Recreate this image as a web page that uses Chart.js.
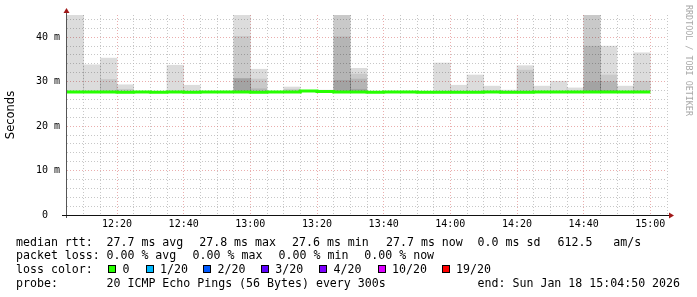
<!DOCTYPE html>
<html>
<head>
<meta charset="utf-8">
<script src="https://cdn.jsdelivr.net/npm/chart.js@4/dist/chart.umd.min.js"></script>
<style>
  html, body { margin: 0; padding: 0; background: #fff; }
  #wrap { position: relative; width: 697px; height: 297px; overflow: hidden; }
  #chart { position: absolute; left: 0; top: 0; }
  .t { position: absolute; font: 11.6px "DejaVu Sans Mono", monospace; line-height: 14px; white-space: pre; color: #000; }
  .box { position: absolute; width: 6px; height: 6px; border: 1px solid #000; }
</style>
</head>
<body>
<div id="wrap">
  <canvas id="chart" width="697" height="297"></canvas>
</div>
<script>

// time axis: one column per 5 minutes, starting 12:05
var startTime = '12:05'
var stepMinutes = 5
var spanMinutes = 180
var timeLabels = ['12:20', '12:40', '13:00', '13:20', '13:40', '14:00', '14:20', '14:40', '15:00']

var yMax = 45
var yTickValues = [0, 10, 20, 30, 40]
var yTickText = ['0  ', '10 m', '20 m', '30 m', '40 m']

// median rtt per column (ms)
var median = [27.7, 27.7, 27.7, 27.6, 27.7, 27.6, 27.7, 27.6, 27.7, 27.7,
              27.7, 27.6, 27.7, 27.7, 27.9, 27.8, 27.7, 27.7, 27.6, 27.7,
              27.7, 27.6, 27.6, 27.6, 27.6, 27.7, 27.6, 27.6, 27.7, 27.7,
              27.7, 27.7, 27.7, 27.7, 27.7]

// smoke layers (top of each band, ms), outermost first
var smoke1 = [45, 33.8, 35.3, 29.3, null, null, 33.7, 29.2, null, null,
              45, 32.8, null, 28.8, null, 28.1, 45, 33, null, null,
              null, null, 34.2, 29.2, 31.5, 29, 28.1, 33.6, 29, 30.1,
              28.6, 45, 38, 29, 36.5]
var smoke2 = [null, null, 30.5, 28.3, null, null, null, null, null, null,
              40.2, 30.6, null, 28.3, null, null, 45, 31.7, null, null,
              null, null, null, null, null, null, null, 32.6, null, null,
              null, 45, 31.5, null, 30.1]
var smoke3 = [null, null, null, null, null, null, null, null, null, null,
              30.7, 28.4, null, null, null, null, 40.1, 30.6, null, null,
              null, null, null, null, null, null, null, null, null, null,
              null, 38, 30, null, null]
var smoke4 = [null, null, null, null, null, null, null, null, null, null,
              30.7, null, null, null, null, null, 30.3, 28.3, null, null,
              null, null, null, null, null, null, null, null, null, null,
              null, 30, 28, null, null]

var rttStats = ['27.7 ms avg', '27.8 ms max', '27.6 ms min', '27.7 ms now', '0.0 ms sd', '612.5', 'am/s']
var lossStats = ['0.00 % avg', '0.00 % max', '0.00 % min', '0.00 % now']
var lossLabels = ['0', '1/20', '2/20', '3/20', '4/20', '10/20', '19/20']
var lossColors = ['#26ff00', '#00b8ff', '#0059ff', '#5e00ff', '#7e00ff', '#dd00ff', '#ff0000']
var probeText = '20 ICMP Echo Pings (56 Bytes) every 300s'
var endText = 'end: Sun Jan 18 15:04:50 2026'


function toMin(s) {
  var p = s.split(':')
  return +p[0] * 60 + +p[1]
}

var t0 = toMin(startTime)
var labelOffsets = timeLabels.map(s => toMin(s) - t0)

function smokeData(tops) {
  var out = []
  tops.forEach((top, i) => {
    if (top !== null)
      out.push({ x: i * stepMinutes + stepMinutes / 2, y: [median[i], top] })
  })
  return out
}

var medianLine = median.map((v, i) => ({ x: i * stepMinutes, y: v }))
medianLine.push({ x: median.length * stepMinutes, y: median[median.length - 1] })

function smokeSet(tops, color, order) {
  return {
    type: 'bar',
    data: smokeData(tops),
    backgroundColor: color,
    borderWidth: 0,
    grouped: false,
    barPercentage: 1,
    categoryPercentage: 1,
    order: order
  }
}

// axis lines, arrows and the side watermark
const decor = {
  id: 'decor',
  afterDraw(chart) {
    const { ctx, chartArea: a } = chart
    ctx.save()
    ctx.lineWidth = 1
    ctx.strokeStyle = '#555'
    ctx.beginPath()
    ctx.moveTo(a.left - 0.5, a.bottom + 3)
    ctx.lineTo(a.left - 0.5, a.top - 4)
    ctx.stroke()
    ctx.strokeStyle = '#111'
    ctx.beginPath()
    ctx.moveTo(a.left - 5, a.bottom + 0.5)
    ctx.lineTo(a.right + 3, a.bottom + 0.5)
    ctx.stroke()

    ctx.fillStyle = '#a01818'
    ctx.beginPath()
    ctx.moveTo(a.left - 0.5, a.top - 7)
    ctx.lineTo(a.left - 3.5, a.top - 2)
    ctx.lineTo(a.left + 2.5, a.top - 2)
    ctx.closePath()
    ctx.fill()
    ctx.beginPath()
    ctx.moveTo(a.right + 7, a.bottom + 0.5)
    ctx.lineTo(a.right + 2, a.bottom - 2.5)
    ctx.lineTo(a.right + 2, a.bottom + 3.5)
    ctx.closePath()
    ctx.fill()

    ctx.translate(688, 5)
    ctx.rotate(Math.PI / 2)
    ctx.fillStyle = '#a8a8a8'
    ctx.font = '8.4px "DejaVu Sans Mono"'
    ctx.textBaseline = 'middle'
    ctx.fillText('RRDTOOL / TOBI OETIKER', 0, 0)
    ctx.restore()
  }
}

Chart.defaults.font.family = '"DejaVu Sans Mono", monospace'

const ctx = document.getElementById('chart')

new Chart(ctx, {
  type: 'bar',
  data: {
    datasets: [
      {
        type: 'line',
        data: medianLine,
        borderColor: '#26ff00',
        borderWidth: 3,
        pointRadius: 0,
        stepped: 'before',
        order: 0
      },
      smokeSet(smoke1, 'rgba(0,0,0,0.137)', 4),
      smokeSet(smoke2, 'rgba(0,0,0,0.09)', 3),
      smokeSet(smoke3, 'rgba(0,0,0,0.1)', 2),
      smokeSet(smoke4, 'rgba(0,0,0,0.1)', 1)
    ]
  },
  options: {
    responsive: false,
    animation: false,
    layout: { padding: { top: 15, right: 30, left: 0, bottom: 0 } },
    plugins: { legend: { display: false }, tooltip: { enabled: false } },
    scales: {
      x: {
        type: 'linear',
        min: 0,
        max: spanMinutes,
        offset: false,
        afterFit: s => { s.height = 82 },
        border: { display: false, dash: [1, 2] },
        grid: {
          offset: false,
          drawTicks: false,
          color: c => {
            var v = c.tick ? c.tick.value : 0
            if (v === 0) return 'rgba(0,0,0,0)'
            return labelOffsets.indexOf(v) >= 0 ? 'rgba(220,120,120,0.6)' : 'rgba(180,180,180,0.75)'
          }
        },
        ticks: {
          stepSize: stepMinutes,
          maxTicksLimit: 100,
          autoSkip: false,
          maxRotation: 0,
          minRotation: 0,
          padding: 3,
          color: '#000',
          font: { size: 10 },
          callback: v => {
            var i = labelOffsets.indexOf(v)
            return i >= 0 ? timeLabels[i] : ''
          }
        }
      },
      y: {
        min: 0,
        max: yMax,
        afterFit: s => { s.width = 67 },
        border: { display: false, dash: [1, 2] },
        grid: {
          drawTicks: false,
          color: c => {
            var v = c.tick ? c.tick.value : 0
            if (v === 0) return 'rgba(0,0,0,0)'
            return yTickValues.indexOf(v) >= 0 ? 'rgba(220,120,120,0.6)' : 'rgba(180,180,180,0.75)'
          }
        },
        ticks: {
          stepSize: 2,
          maxTicksLimit: 100,
          autoSkip: false,
          includeBounds: false,
          padding: 7,
          color: '#000',
          font: { size: 10 },
          callback: v => {
            var i = yTickValues.indexOf(v)
            return i >= 0 ? yTickText[i] : ''
          }
        },
        title: {
          display: true,
          text: 'Seconds',
          color: '#000',
          padding: { top: 4, bottom: 0 },
          font: { family: '"DejaVu Sans", sans-serif', size: 11.5 }
        }
      }
    }
  },
  plugins: [decor]
})

// text legend under the graph
var wrap = document.getElementById('wrap')
var lineTops = [234.5, 248.3, 262.2, 276]

function addText(x, y, s) {
  var d = document.createElement('div')
  d.className = 't'
  d.style.left = x + 'px'
  d.style.top = y + 'px'
  d.textContent = s
  wrap.appendChild(d)
}

addText(16, lineTops[0], 'median rtt:')
var rttX = [106.5, 199.2, 292, 386, 477.6, 557.6, 613.3]
rttStats.forEach((s, i) => addText(rttX[i], lineTops[0], s))

addText(16, lineTops[1], 'packet loss:')
var lossX = [106.5, 192.6, 278.6, 364.3]
lossStats.forEach((s, i) => addText(lossX[i], lineTops[1], s))

addText(16, lineTops[2], 'loss color:')
var boxX = [108.3, 145.7, 203.3, 261, 319.3, 377.7, 441.7]
lossLabels.forEach((s, i) => {
  var b = document.createElement('div')
  b.className = 'box'
  b.style.left = boxX[i] + 'px'
  b.style.top = '265px'
  b.style.background = lossColors[i]
  wrap.appendChild(b)
  addText(boxX[i] + 14.3, lineTops[2], s)
})

addText(16, lineTops[3], 'probe:')
addText(106.5, lineTops[3], probeText)
addText(477.6, lineTops[3], endText)

</script>
</body>
</html>
